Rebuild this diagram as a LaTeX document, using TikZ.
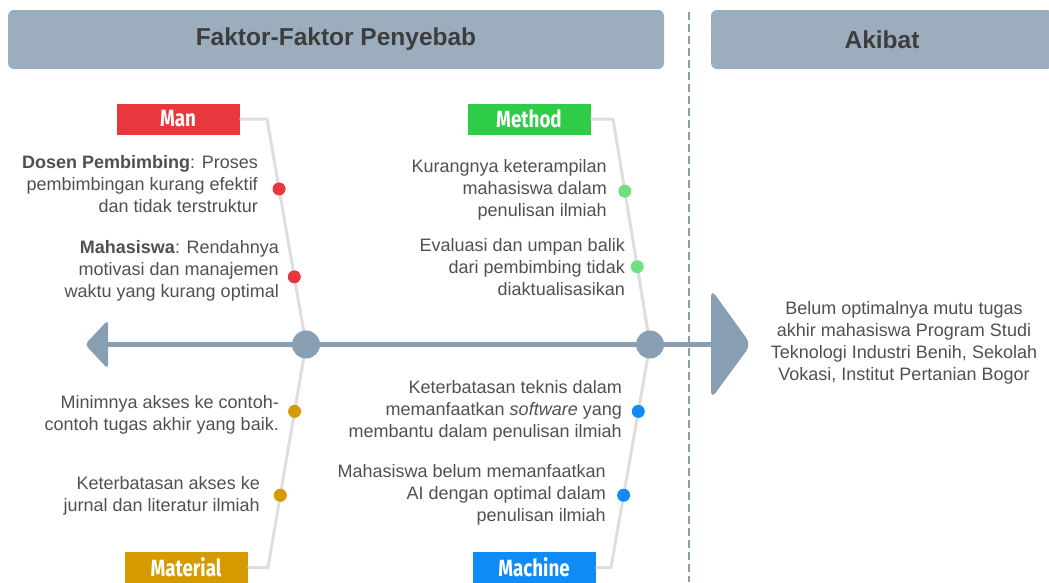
\documentclass[tikz,border=0pt]{standalone}
\usepackage{fontspec}
\setmainfont{Liberation Sans}
\newfontfamily\labelfont[FakeStretch=0.8]{Fira Sans}

\definecolor{spinecol}{HTML}{889FB3}
\definecolor{headcol}{HTML}{9CAEBE}
\definecolor{bonecol}{HTML}{DEDEDE}
\definecolor{txtcol}{HTML}{505050}
\definecolor{titlecol}{HTML}{3D3D3D}
\definecolor{mancol}{HTML}{E8383D}
\definecolor{methodcol}{HTML}{2ECC47}
\definecolor{methoddot}{HTML}{6EE07E}
\definecolor{materialcol}{HTML}{D49A00}
\definecolor{machinecol}{HTML}{0F8BF5}

\begin{document}
\begin{tikzpicture}[x=1pt,y=-1pt,
  head/.style={fill=headcol,rounded corners=6pt,minimum height=59pt,text=titlecol,
    font=\fontsize{24.5}{26}\selectfont\bfseries},
  cat/.style={fill=#1,minimum width=123pt,minimum height=31pt,inner sep=0pt,text=white,
    font=\labelfont\fontsize{23.5}{23.5}\selectfont\bfseries},
  cause/.style={anchor=east,align=right,inner sep=0pt,text=txtcol,
    font=\fontsize{18}{22}\selectfont},
  bone/.style={draw=bonecol,line width=3pt},
  dot/.style={circle,fill=#1,minimum size=13pt,inner sep=0pt},
  spine/.style={draw=spinecol,line width=5pt},
  joint/.style={circle,fill=spinecol,minimum size=28pt,inner sep=0pt}]
\useasboundingbox (0,0) rectangle (1049,582);

% headings
\node[head,minimum width=656pt] (faktor) at (336,39.5) {Faktor-Faktor Penyebab};
\node[head,minimum width=342pt] (akibat) at (882,39.5) {Akibat};
\coordinate (dtop) at (689,12);
\coordinate (dbot) at (689,582);
\draw[spinecol,line width=2.5pt,dash pattern=on 8pt off 4pt] (dtop) -- (dbot);

% category boxes
\node[cat=mancol] (man) at (178,119) {Man};
\node[cat=methodcol] (method) at (529,119) {Method};
\node[cat=materialcol] (material) at (186,567.5) {Material};
\node[cat=machinecol] (machine) at (534,567.5) {Machine};

\coordinate (s1) at (306,344.5);
\coordinate (s2) at (650,344.5);
\coordinate (tail) at (106,344.5);
\coordinate (head) at (712,344.5);

% bones
\coordinate (manbend) at (267,119);
\coordinate (methodbend) at (613,119);
\coordinate (materialbend) at (268,567.5);
\coordinate (machinebend) at (611,567.5);
\draw[bone] (man.east) -- (manbend) -- (s1)
  node[dot=mancol,pos=0.31] (d1) {} node[dot=mancol,pos=0.70] (d2) {};
\draw[bone] (method.east) -- (methodbend) -- (s2)
  node[dot=methoddot,pos=0.32] (d3) {} node[dot=methoddot,pos=0.655] (d4) {};
\draw[bone] (material.east) -- (materialbend) -- (s1)
  node[dot=materialcol,pos=0.70] (d5) {} node[dot=materialcol,pos=0.324] (d6) {};
\draw[bone] (machine.east) -- (machinebend) -- (s2)
  node[dot=machinecol,pos=0.70] (d7) {} node[dot=machinecol,pos=0.324] (d8) {};

% spine
\draw[spine] (tail) -- (head);
\fill[spinecol,rounded corners=4pt] (108,320) -- (85,344.5) -- (108,369) -- cycle;
\fill[spinecol,rounded corners=8pt] (711,289) -- (751,344.5) -- (711,399) -- cycle;
\node[joint] (c1) at (s1) {};
\node[joint] (c2) at (s2) {};

% causes
\node[cause] (t1) at (258,184.5) {\textbf{Dosen Pembimbing}: Proses\\pembimbingan kurang efektif\\dan tidak terstruktur};
\node[cause] (t2) at (279,271) {\textbf{Mahasiswa}: Rendahnya\\motivasi dan manajemen\\waktu yang kurang optimal};
\node[cause] (t3) at (607,190) {Kurangnya keterampilan\\mahasiswa dalam\\penulisan ilmiah};
\node[cause] (t4) at (625,267) {Evaluasi dan umpan balik\\dari pembimbing tidak\\diaktualisasikan};
\node[cause] (t5) at (279,414.5) {Minimnya akses ke contoh-\\contoh tugas akhir yang baik.};
\node[cause] (t6) at (260,496) {Keterbatasan akses ke\\jurnal dan literatur ilmiah};
\node[cause] (t7) at (622,411) {Keterbatasan teknis dalam\\memanfaatkan \textit{software} yang\\membantu dalam penulisan ilmiah};
\node[cause] (t8) at (606,495) {Mahasiswa belum memanfaatkan\\AI dengan optimal dalam\\penulisan ilmiah};

% effect
\node[cause,anchor=center,align=center] (effect) at (904,342.5) {Belum optimalnya mutu tugas\\akhir mahasiswa Program Studi\\Teknologi Industri Benih, Sekolah\\Vokasi, Institut Pertanian Bogor};
\end{tikzpicture}
\end{document}
